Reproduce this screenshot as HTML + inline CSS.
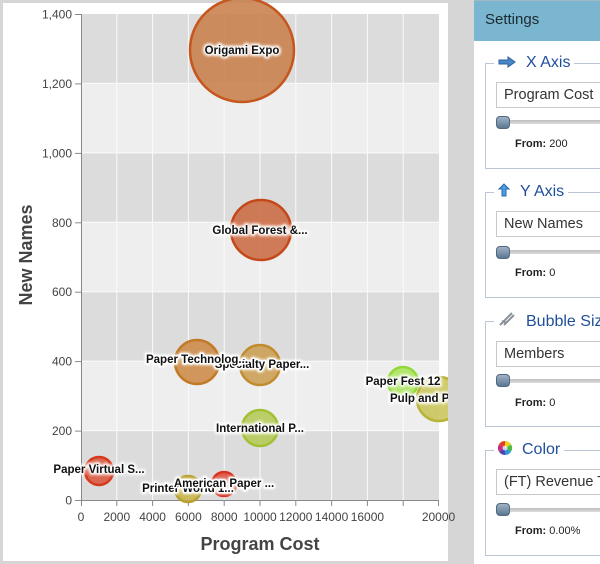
<!DOCTYPE html>
<html><head><meta charset="utf-8">
<style>
html,body{margin:0;padding:0;}
body{width:600px;height:564px;position:relative;overflow:hidden;background:#d6d6d6;font-family:"Liberation Sans",Arial,sans-serif;}
#chart{position:absolute;left:0;top:0;}
.panel{position:absolute;left:474px;top:0;width:126px;height:564px;background:#fff;overflow:hidden;}
.hdr{position:absolute;left:0;top:0;width:200px;height:41px;background:#7ab6cf;border-top:1px solid #9fb8c4;box-sizing:border-box;}
.hdr span{position:absolute;left:11px;top:10px;font-size:15px;color:#1c2a33;}
.fs{position:absolute;left:11px;width:200px;border:1px solid #bcc5d6;box-sizing:border-box;}
.lg{position:absolute;top:-11px;height:20px;background:#fff;font-size:16px;color:#1f4e9d;line-height:20px;white-space:nowrap;}
.sel{position:absolute;left:10px;width:200px;height:26px;border:1px solid #c8c8c8;box-sizing:border-box;font-size:14.5px;color:#333;line-height:24px;padding-left:7px;white-space:nowrap;}
.trk{position:absolute;left:12px;width:200px;height:4px;background:linear-gradient(#bdbdbd,#dcdcdc);border-radius:2px;}
.hdl{position:absolute;left:10px;width:14px;height:13px;border-radius:4px;background:linear-gradient(#9fb2c6,#5d7893);border:1px solid #51687f;box-sizing:border-box;}
.frm{position:absolute;left:29px;font-size:11px;color:#222;white-space:nowrap;}
.frm b{font-weight:bold;}
</style></head>
<body>
<svg id="chart" width="600" height="564" viewBox="0 0 600 564" xmlns="http://www.w3.org/2000/svg">
<defs>
<clipPath id="cp"><rect x="3" y="0" width="445" height="561"/></clipPath>
<filter id="blur" x="-10%" y="-50%" width="120%" height="200%"><feGaussianBlur stdDeviation="1.2"/></filter>
</defs>
<rect x="3" y="3" width="445" height="558" fill="#fff"/>
<rect x="81" y="14" width="358" height="69.4" fill="#dcdcdc"/>
<rect x="81" y="83.4" width="358" height="69.4" fill="#eeeeee"/>
<rect x="81" y="152.9" width="358" height="69.4" fill="#dcdcdc"/>
<rect x="81" y="222.3" width="358" height="69.4" fill="#eeeeee"/>
<rect x="81" y="291.7" width="358" height="69.4" fill="#dcdcdc"/>
<rect x="81" y="361.1" width="358" height="69.4" fill="#eeeeee"/>
<rect x="81" y="430.6" width="358" height="69.4" fill="#dcdcdc"/>
<g stroke="#fafafa" stroke-width="1">
<line x1="116.8" y1="14" x2="116.8" y2="500"/>
<line x1="152.6" y1="14" x2="152.6" y2="500"/>
<line x1="188.4" y1="14" x2="188.4" y2="500"/>
<line x1="224.2" y1="14" x2="224.2" y2="500"/>
<line x1="260" y1="14" x2="260" y2="500"/>
<line x1="295.8" y1="14" x2="295.8" y2="500"/>
<line x1="331.6" y1="14" x2="331.6" y2="500"/>
<line x1="367.4" y1="14" x2="367.4" y2="500"/>
<line x1="403.2" y1="14" x2="403.2" y2="500"/>
<line x1="81" y1="83.4" x2="439" y2="83.4"/>
<line x1="81" y1="152.9" x2="439" y2="152.9"/>
<line x1="81" y1="222.3" x2="439" y2="222.3"/>
<line x1="81" y1="291.7" x2="439" y2="291.7"/>
<line x1="81" y1="361.1" x2="439" y2="361.1"/>
<line x1="81" y1="430.6" x2="439" y2="430.6"/>
</g>
<g stroke="#888" stroke-width="1" fill="none">
<line x1="81.5" y1="14" x2="81.5" y2="500"/>
<line x1="81" y1="500.5" x2="439" y2="500.5"/>
<line x1="75" y1="14.5" x2="81" y2="14.5"/>
<line x1="75" y1="83.9" x2="81" y2="83.9"/>
<line x1="75" y1="153.4" x2="81" y2="153.4"/>
<line x1="75" y1="222.8" x2="81" y2="222.8"/>
<line x1="75" y1="292.2" x2="81" y2="292.2"/>
<line x1="75" y1="361.6" x2="81" y2="361.6"/>
<line x1="75" y1="431.1" x2="81" y2="431.1"/>
<line x1="75" y1="500.5" x2="81" y2="500.5"/>
<line x1="81.5" y1="500" x2="81.5" y2="506"/>
<line x1="116.8" y1="500" x2="116.8" y2="506"/>
<line x1="152.6" y1="500" x2="152.6" y2="506"/>
<line x1="188.4" y1="500" x2="188.4" y2="506"/>
<line x1="224.2" y1="500" x2="224.2" y2="506"/>
<line x1="260" y1="500" x2="260" y2="506"/>
<line x1="295.8" y1="500" x2="295.8" y2="506"/>
<line x1="331.6" y1="500" x2="331.6" y2="506"/>
<line x1="367.4" y1="500" x2="367.4" y2="506"/>
<line x1="403.2" y1="500" x2="403.2" y2="506"/>
<line x1="438.5" y1="500" x2="438.5" y2="506"/>
</g>
<g font-family="Liberation Sans, Arial, sans-serif" font-size="12" fill="#444" text-anchor="end">
<text x="72" y="18.5">1,400</text>
<text x="72" y="88">1,200</text>
<text x="72" y="157.5">1,000</text>
<text x="72" y="227">800</text>
<text x="72" y="296">600</text>
<text x="72" y="365.5">400</text>
<text x="72" y="435">200</text>
<text x="72" y="504.5">0</text>
</g>
<g font-family="Liberation Sans, Arial, sans-serif" font-size="12" fill="#444" text-anchor="middle">
<text x="81" y="521">0</text>
<text x="116.8" y="521">2000</text>
<text x="152.6" y="521">4000</text>
<text x="188.4" y="521">6000</text>
<text x="224.2" y="521">8000</text>
<text x="260" y="521">10000</text>
<text x="295.8" y="521">12000</text>
<text x="331.6" y="521">14000</text>
<text x="367.4" y="521">16000</text>
<text x="438.5" y="521">20000</text>
</g>
<text x="260" y="550" font-family="Liberation Sans, Arial, sans-serif" font-size="18" font-weight="bold" fill="#444" text-anchor="middle">Program Cost</text>
<text transform="translate(32,255) rotate(-90)" font-family="Liberation Sans, Arial, sans-serif" font-size="18" font-weight="bold" fill="#444" text-anchor="middle">New Names</text>
<g clip-path="url(#cp)" stroke-width="2.5" fill-opacity="0.88">
<circle cx="242" cy="50" r="52" fill="#c9804a" stroke="#c4561e"/>
<circle cx="261" cy="230" r="30" fill="#cc6b42" stroke="#c4481a"/>
<circle cx="197" cy="362" r="22" fill="#cc8a48" stroke="#c27a26"/>
<circle cx="260" cy="365" r="20" fill="#cc9e52" stroke="#c08c2e"/>
<circle cx="260" cy="428" r="18" fill="#b4ca58" stroke="#a2c034"/>
<circle cx="99" cy="471" r="14" fill="#d9583c" stroke="#d8381e"/>
<circle cx="188" cy="489" r="13" fill="#c8b44a" stroke="#b9a232"/>
<circle cx="224" cy="484" r="12" fill="#de4c3a" stroke="#d83220"/>
<circle cx="403" cy="382" r="15" fill="#aae45a" stroke="#92d83a"/>
<circle cx="439" cy="399" r="22" fill="#c9c55a" stroke="#b9b33a"/>
</g>
<g clip-path="url(#cp)" font-family="Liberation Sans, Arial, sans-serif" font-size="11.5" font-weight="bold" text-anchor="middle">
<g stroke="#fff" stroke-width="4" stroke-linejoin="round" fill="#fff" filter="url(#blur)">
<text x="242" y="54">Origami Expo</text>
<text x="260" y="234">Global Forest &amp;...</text>
<text x="262" y="368">Specialty Paper...</text>
<text x="197" y="363">Paper Technolog...</text>
<text x="260" y="432">International P...</text>
<text x="99" y="473">Paper Virtual S...</text>
<text x="188" y="492">Printer World 1...</text>
<text x="224" y="487">American Paper ...</text>
<text x="403" y="385">Paper Fest 12</text>
<text x="390" y="402" text-anchor="start">Pulp and Paper...</text>
</g>
<g fill="#111">
<text x="242" y="54">Origami Expo</text>
<text x="260" y="234">Global Forest &amp;...</text>
</g>
<text x="262" y="368" fill="#111" stroke="#fff" stroke-width="3" stroke-linejoin="round" paint-order="stroke">Specialty Paper...</text>
<text x="197" y="363" fill="#111" stroke="#fff" stroke-width="3" stroke-linejoin="round" paint-order="stroke">Paper Technolog...</text>
<g fill="#111">
<text x="260" y="432">International P...</text>
<text x="99" y="473">Paper Virtual S...</text>
</g>
<text x="188" y="492" fill="#111" stroke="#fff" stroke-width="3" stroke-linejoin="round" paint-order="stroke">Printer World 1...</text>
<text x="224" y="487" fill="#111" stroke="#fff" stroke-width="3" stroke-linejoin="round" paint-order="stroke">American Paper ...</text>
<g fill="#111">
<text x="403" y="385">Paper Fest 12</text>
<text x="390" y="402" text-anchor="start">Pulp and Paper...</text>
</g>
</g>
</svg>

<div class="panel">
  <div class="hdr"><span>Settings</span></div>

  <div class="fs" style="top:63px;height:106px;">
    <div class="lg" style="left:8px;padding:0 4px;">
      <svg width="18" height="12" viewBox="0 0 18 12" style="vertical-align:-1px;margin-right:10px;"><path d="M1 4 H10 V1 L17 6 L10 11 V8 H1 Z" fill="#4a86c8" stroke="#2c5f9e" stroke-width="1"/></svg>X Axis
    </div>
    <div class="sel" style="top:18px;">Program Cost</div>
    <div class="trk" style="top:56px;"></div>
    <div class="hdl" style="top:52px;"></div>
    <div class="frm" style="top:74px;"><b>From:</b> 200</div>
  </div>

  <div class="fs" style="top:192px;height:106px;">
    <div class="lg" style="left:8px;padding:0 4px;">
      <svg width="12" height="14" viewBox="0 0 12 14" style="vertical-align:-1px;margin-right:10px;"><path d="M6 1 L11 6 H8 V13 H4 V6 H1 Z" fill="#4a9be0" stroke="#2c6aa8" stroke-width="1"/></svg>Y Axis
    </div>
    <div class="sel" style="top:18px;">New Names</div>
    <div class="trk" style="top:57px;"></div>
    <div class="hdl" style="top:53px;"></div>
    <div class="frm" style="top:74px;"><b>From:</b> 0</div>
  </div>

  <div class="fs" style="top:321px;height:106px;">
    <div class="lg" style="left:8px;padding:0 4px;">
      <svg width="18" height="16" viewBox="0 0 18 16" style="vertical-align:-1px;margin-right:10px;"><path d="M2 14 L14 2 M6 14 L16 4 M4 10 L9 12" stroke="#8a8f99" stroke-width="2" fill="none"/></svg>Bubble Size
    </div>
    <div class="sel" style="top:19px;">Members</div>
    <div class="trk" style="top:57px;"></div>
    <div class="hdl" style="top:52px;"></div>
    <div class="frm" style="top:75px;"><b>From:</b> 0</div>
  </div>

  <div class="fs" style="top:450px;height:106px;">
    <div class="lg" style="left:8px;padding:0 4px;">
      <svg width="14" height="14" viewBox="0 0 14 14" style="vertical-align:-1px;margin-right:10px;">
        <path d="M7 7 L7 0 A7 7 0 0 1 13.1 3.5 Z" fill="#e8d21c"/>
        <path d="M7 7 L13.1 3.5 A7 7 0 0 1 13.1 10.5 Z" fill="#4cb848"/>
        <path d="M7 7 L13.1 10.5 A7 7 0 0 1 7 14 Z" fill="#2a9ad8"/>
        <path d="M7 7 L7 14 A7 7 0 0 1 0.9 10.5 Z" fill="#5a3fb0"/>
        <path d="M7 7 L0.9 10.5 A7 7 0 0 1 0.9 3.5 Z" fill="#c8288a"/>
        <path d="M7 7 L0.9 3.5 A7 7 0 0 1 7 0 Z" fill="#e03a2a"/>
        <circle cx="7" cy="7" r="2.5" fill="#fff" fill-opacity="0.7"/>
      </svg>Color
    </div>
    <div class="sel" style="top:18px;">(FT) Revenue Target</div>
    <div class="trk" style="top:57px;"></div>
    <div class="hdl" style="top:52px;"></div>
    <div class="frm" style="top:74px;"><b>From:</b> 0.00%</div>
  </div>
</div>
</body></html>
